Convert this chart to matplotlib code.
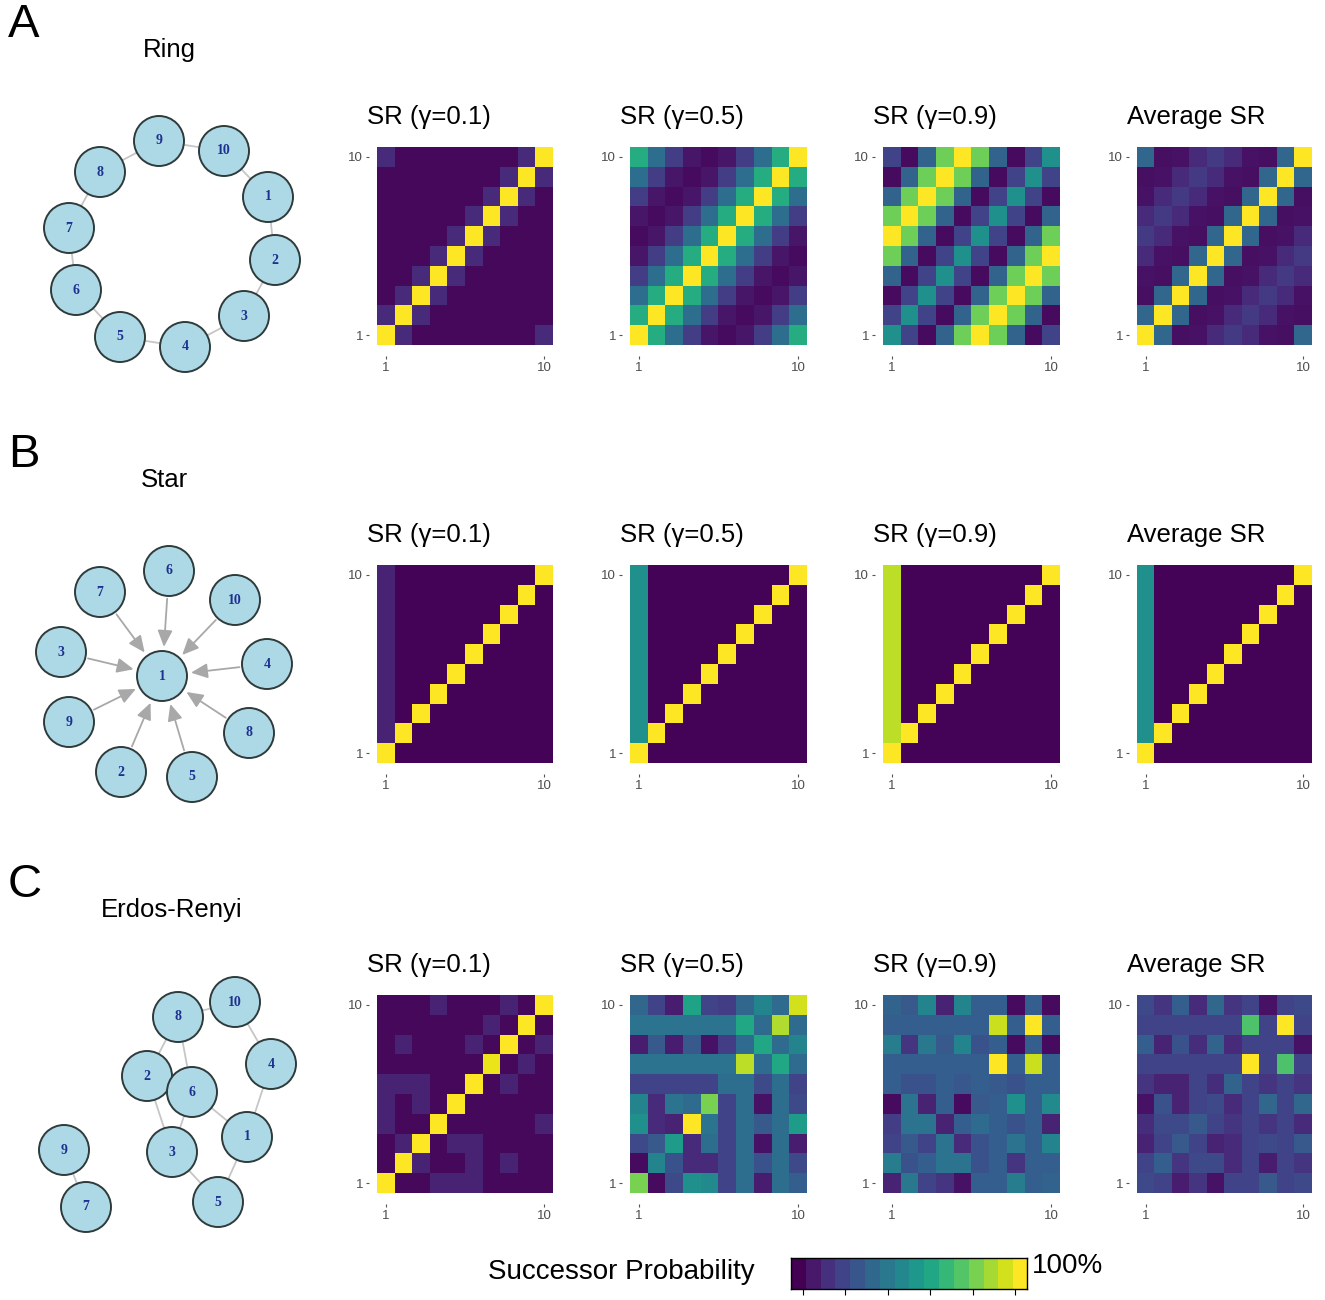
import numpy as np
import matplotlib
matplotlib.use("Agg")
import matplotlib.pyplot as plt
from matplotlib.patches import Circle

plt.rcParams["font.family"] = ["Liberation Sans", "DejaVu Sans"]

W, H = 1325, 1300

# ---- data: successor representations (percent of max), rows from y=10 (top) down to y=1 ----
ring_sr01 = [
    [12, 2, 2, 2, 2, 2, 2, 2, 12, 100],
    [2, 2, 2, 2, 2, 2, 2, 12, 100, 12],
    [2, 2, 2, 2, 2, 2, 12, 100, 12, 2],
    [2, 2, 2, 2, 2, 12, 100, 12, 2, 2],
    [2, 2, 2, 2, 12, 100, 12, 2, 2, 2],
    [2, 2, 2, 12, 100, 12, 2, 2, 2, 2],
    [2, 2, 12, 100, 12, 2, 2, 2, 2, 2],
    [2, 12, 100, 12, 2, 2, 2, 2, 2, 2],
    [12, 100, 12, 2, 2, 2, 2, 2, 2, 2],
    [100, 12, 2, 2, 2, 2, 2, 2, 2, 12],
]
ring_sr05 = [
    [62, 36, 18, 6, 3, 6, 18, 36, 62, 100],
    [36, 18, 6, 3, 6, 18, 36, 62, 100, 62],
    [18, 6, 3, 6, 18, 36, 62, 100, 62, 36],
    [6, 3, 6, 18, 36, 62, 100, 62, 36, 18],
    [3, 6, 18, 36, 62, 100, 62, 36, 18, 6],
    [6, 18, 36, 62, 100, 62, 36, 18, 6, 3],
    [18, 36, 62, 100, 62, 36, 18, 6, 3, 6],
    [36, 62, 100, 62, 36, 18, 6, 3, 6, 18],
    [62, 100, 62, 36, 18, 6, 3, 6, 18, 36],
    [100, 62, 36, 18, 6, 3, 6, 18, 36, 62],
]
ring_sr09 = [
    [20, 3, 32, 78, 100, 78, 32, 3, 20, 50],
    [3, 32, 78, 100, 78, 32, 3, 20, 50, 20],
    [32, 78, 100, 78, 32, 3, 20, 50, 20, 3],
    [78, 100, 78, 32, 3, 20, 50, 20, 3, 32],
    [100, 78, 32, 3, 20, 50, 20, 3, 32, 78],
    [78, 32, 3, 20, 50, 20, 3, 32, 78, 100],
    [32, 3, 20, 50, 20, 3, 32, 78, 100, 78],
    [3, 20, 50, 20, 3, 32, 78, 100, 78, 32],
    [20, 50, 20, 3, 32, 78, 100, 78, 32, 3],
    [50, 20, 3, 32, 78, 100, 78, 32, 3, 20],
]
ring_avg = [
    [33, 4, 5, 12, 17, 12, 5, 4, 33, 100],
    [4, 5, 12, 17, 12, 5, 4, 33, 100, 33],
    [5, 12, 17, 12, 5, 4, 33, 100, 33, 4],
    [12, 17, 12, 5, 4, 33, 100, 33, 4, 5],
    [17, 12, 5, 4, 33, 100, 33, 4, 5, 12],
    [12, 5, 4, 33, 100, 33, 4, 5, 12, 17],
    [5, 4, 33, 100, 33, 4, 5, 12, 17, 12],
    [4, 33, 100, 33, 4, 5, 12, 17, 12, 5],
    [33, 100, 33, 4, 5, 12, 17, 12, 5, 4],
    [100, 33, 4, 5, 12, 17, 12, 5, 4, 33],
]

star_sr01 = [
    [10, 1, 1, 1, 1, 1, 1, 1, 1, 100],
    [10, 1, 1, 1, 1, 1, 1, 1, 100, 1],
    [10, 1, 1, 1, 1, 1, 1, 100, 1, 1],
    [10, 1, 1, 1, 1, 1, 100, 1, 1, 1],
    [10, 1, 1, 1, 1, 100, 1, 1, 1, 1],
    [10, 1, 1, 1, 100, 1, 1, 1, 1, 1],
    [10, 1, 1, 100, 1, 1, 1, 1, 1, 1],
    [10, 1, 100, 1, 1, 1, 1, 1, 1, 1],
    [10, 100, 1, 1, 1, 1, 1, 1, 1, 1],
    [100, 1, 1, 1, 1, 1, 1, 1, 1, 1],
]
star_sr05 = [
    [50, 1, 1, 1, 1, 1, 1, 1, 1, 100],
    [50, 1, 1, 1, 1, 1, 1, 1, 100, 1],
    [50, 1, 1, 1, 1, 1, 1, 100, 1, 1],
    [50, 1, 1, 1, 1, 1, 100, 1, 1, 1],
    [50, 1, 1, 1, 1, 100, 1, 1, 1, 1],
    [50, 1, 1, 1, 100, 1, 1, 1, 1, 1],
    [50, 1, 1, 100, 1, 1, 1, 1, 1, 1],
    [50, 1, 100, 1, 1, 1, 1, 1, 1, 1],
    [50, 100, 1, 1, 1, 1, 1, 1, 1, 1],
    [100, 1, 1, 1, 1, 1, 1, 1, 1, 1],
]
star_sr09 = [
    [90, 1, 1, 1, 1, 1, 1, 1, 1, 100],
    [90, 1, 1, 1, 1, 1, 1, 1, 100, 1],
    [90, 1, 1, 1, 1, 1, 1, 100, 1, 1],
    [90, 1, 1, 1, 1, 1, 100, 1, 1, 1],
    [90, 1, 1, 1, 1, 100, 1, 1, 1, 1],
    [90, 1, 1, 1, 100, 1, 1, 1, 1, 1],
    [90, 1, 1, 100, 1, 1, 1, 1, 1, 1],
    [90, 1, 100, 1, 1, 1, 1, 1, 1, 1],
    [90, 100, 1, 1, 1, 1, 1, 1, 1, 1],
    [100, 1, 1, 1, 1, 1, 1, 1, 1, 1],
]
star_avg = [
    [50, 1, 1, 1, 1, 1, 1, 1, 1, 100],
    [50, 1, 1, 1, 1, 1, 1, 1, 100, 1],
    [50, 1, 1, 1, 1, 1, 1, 100, 1, 1],
    [50, 1, 1, 1, 1, 1, 100, 1, 1, 1],
    [50, 1, 1, 1, 1, 100, 1, 1, 1, 1],
    [50, 1, 1, 1, 100, 1, 1, 1, 1, 1],
    [50, 1, 1, 100, 1, 1, 1, 1, 1, 1],
    [50, 1, 100, 1, 1, 1, 1, 1, 1, 1],
    [50, 100, 1, 1, 1, 1, 1, 1, 1, 1],
    [100, 1, 1, 1, 1, 1, 1, 1, 1, 1],
]

er_sr01 = [
    [2, 2, 2, 10, 2, 2, 2, 10, 2, 100],
    [2, 2, 2, 2, 2, 2, 10, 2, 100, 2],
    [2, 10, 2, 2, 2, 10, 2, 100, 2, 10],
    [2, 2, 2, 2, 2, 2, 97, 2, 10, 2],
    [10, 10, 10, 2, 2, 100, 2, 10, 2, 2],
    [10, 2, 10, 2, 100, 2, 2, 2, 2, 2],
    [10, 2, 2, 100, 2, 2, 2, 2, 2, 10],
    [2, 10, 100, 2, 10, 10, 2, 2, 2, 2],
    [2, 100, 10, 2, 2, 10, 2, 10, 2, 2],
    [100, 2, 2, 10, 10, 10, 2, 2, 2, 2],
]
er_sr05 = [
    [33, 20, 8, 58, 20, 18, 33, 45, 35, 93],
    [38, 38, 38, 38, 38, 38, 60, 35, 88, 35],
    [8, 28, 8, 28, 5, 18, 35, 60, 35, 45],
    [38, 38, 38, 38, 38, 38, 90, 35, 60, 35],
    [20, 20, 20, 20, 20, 36, 36, 22, 36, 20],
    [45, 12, 38, 35, 80, 20, 36, 5, 36, 22],
    [50, 12, 10, 100, 38, 20, 36, 28, 36, 55],
    [22, 28, 55, 12, 36, 20, 36, 5, 36, 8],
    [3, 45, 25, 12, 12, 20, 36, 25, 36, 22],
    [80, 3, 22, 50, 48, 20, 36, 8, 36, 30],
]
er_sr09 = [
    [32, 28, 45, 10, 45, 30, 30, 3, 30, 3],
    [30, 30, 30, 30, 30, 30, 92, 30, 100, 30],
    [42, 15, 40, 28, 45, 25, 30, 3, 30, 3],
    [30, 30, 30, 30, 30, 30, 100, 30, 92, 30],
    [30, 25, 25, 30, 27, 30, 28, 25, 30, 30],
    [3, 38, 10, 30, 3, 28, 30, 50, 30, 48],
    [18, 38, 38, 10, 30, 35, 30, 25, 30, 10],
    [20, 28, 20, 38, 12, 25, 30, 38, 30, 45],
    [42, 25, 30, 38, 38, 25, 30, 15, 30, 30],
    [10, 40, 20, 15, 5, 30, 30, 42, 30, 32],
]
er_avg = [
    [22, 15, 30, 12, 33, 15, 20, 5, 20, 22],
    [20, 20, 20, 20, 20, 20, 72, 20, 100, 20],
    [30, 10, 25, 13, 32, 12, 20, 20, 20, 5],
    [20, 20, 20, 20, 20, 20, 100, 20, 72, 20],
    [15, 10, 10, 20, 13, 32, 20, 15, 20, 15],
    [5, 25, 10, 20, 22, 12, 20, 33, 20, 33],
    [13, 22, 22, 28, 20, 15, 20, 15, 20, 12],
    [10, 20, 28, 20, 10, 12, 20, 22, 20, 28],
    [20, 30, 15, 22, 22, 12, 20, 8, 20, 15],
    [22, 20, 8, 15, 5, 20, 20, 28, 20, 22],
]

sr_titles = ["SR (γ=0.1)", "SR (γ=0.5)", "SR (γ=0.9)", "Average SR"]
row_letters = ["A", "B", "C"]
graph_names = ["Ring", "Star", "Erdos-Renyi"]
row_mats = [
    [ring_sr01, ring_sr05, ring_sr09, ring_avg],
    [star_sr01, star_sr05, star_sr09, star_avg],
    [er_sr01, er_sr05, er_sr09, er_avg],
]

# network layouts (pixel positions)
ring_nodes = {9: (159, 141), 10: (224, 151), 1: (268, 197), 2: (275, 260), 3: (244, 316),
              4: (185, 347), 5: (120, 337), 6: (76, 290), 7: (69, 228), 8: (100, 172)}
ring_edges = [(1, 2), (2, 3), (3, 4), (4, 5), (5, 6), (6, 7), (7, 8), (8, 9), (9, 10), (10, 1)]

star_nodes = {1: (162, 676), 6: (169, 571), 7: (100, 592), 10: (235, 600), 3: (61, 652),
              4: (267, 664), 9: (69, 722), 8: (249, 733), 2: (121, 772), 5: (192, 777)}
star_edges = [(k, 1) for k in [2, 3, 4, 5, 6, 7, 8, 9, 10]]

er_nodes = {10: (235, 1002), 8: (178, 1017), 4: (271, 1064), 2: (147, 1076), 6: (192, 1092),
            1: (247, 1137), 9: (64, 1150), 3: (172, 1152), 5: (218, 1202), 7: (86, 1207)}
er_edges = [(1, 4), (1, 5), (1, 6), (2, 3), (2, 6), (2, 8), (3, 5), (3, 6), (4, 10), (6, 8),
            (7, 9), (8, 10)]

# ---- layout in pixels ----
col_x = [(377, 553), (630, 807), (883, 1060), (1137, 1312)]
row_y = [(147, 345), (565, 763), (995, 1193)]
title_y = [117, 535, 965]
letter_y = [25, 455, 885]
name_pos = [(169, 50), (164, 480), (172, 910)]


def rect(x0, y0, x1, y1):
    return [x0 / W, 1 - y1 / H, (x1 - x0) / W, (y1 - y0) / H]


fig = plt.figure(figsize=(W / 100, H / 100), dpi=100)
bg = fig.add_axes([0, 0, 1, 1])
bg.set_xlim(0, W)
bg.set_ylim(H, 0)
bg.axis("off")


def draw_graph(nodes, edges, arrows=False):
    for a, b in edges:
        (x1, y1), (x2, y2) = nodes[a], nodes[b]
        if arrows:
            bg.annotate("", xy=(x2, y2), xytext=(x1, y1),
                        arrowprops=dict(arrowstyle="-|>,head_length=1.0,head_width=0.45",
                                        color="#a8a8a8", lw=1.3, mutation_scale=10,
                                        shrinkA=20, shrinkB=21), zorder=1)
        else:
            bg.plot([x1, x2], [y1, y2], color="#c6c6c6", lw=1.3, zorder=1)
    for k, (x, y) in nodes.items():
        bg.add_patch(Circle((x, y), 25, fc="#add8e6", ec="#2f3b3b", lw=1.4, zorder=3))
        bg.text(x, y, str(k), ha="center", va="center", fontsize=10, color="#1d3290",
                family="Liberation Serif", weight="bold", zorder=4)


draw_graph(ring_nodes, ring_edges)
draw_graph(star_nodes, star_edges, arrows=True)
draw_graph(er_nodes, er_edges)

for r in range(3):
    bg.text(8, letter_y[r], row_letters[r], fontsize=34, ha="left", va="center")
    bg.text(name_pos[r][0], name_pos[r][1], graph_names[r], fontsize=18.5, ha="center", va="center")
    y0, y1 = row_y[r]
    for c in range(4):
        x0, x1 = col_x[c]
        bg.text(x0 - 10, title_y[r], sr_titles[c], fontsize=18.5, ha="left", va="center")
        ax = fig.add_axes(rect(x0, y0, x1, y1))
        m = np.array(row_mats[r][c]) / 100.0
        ax.imshow(m, cmap="viridis", vmin=0, vmax=1, origin="upper", aspect="auto",
                  extent=(0.5, 10.5, 0.5, 10.5), interpolation="nearest")
        ax.set_xticks([1, 10])
        ax.set_yticks([1, 10])
        for s in ["top", "right"]:
            ax.spines[s].set_visible(False)
        ax.spines["bottom"].set_position(("outward", 8))
        ax.spines["left"].set_position(("outward", 6))
        ax.spines["bottom"].set_visible(False)
        ax.spines["left"].set_visible(False)
        ax.tick_params(length=2.5, width=0.8, color="#555555", labelsize=9.5,
                       labelcolor="#4d4d4d", pad=1.5)

# colorbar legend
bg.text(755, 1272, "Successor Probability", fontsize=20, ha="right", va="center")
bg.text(1032, 1266, "100%", fontsize=20, ha="left", va="center")
cax = fig.add_axes(rect(791, 1258, 1027, 1289))
n_bins = 16
cax.imshow(np.arange(n_bins)[None, :], cmap=plt.get_cmap("viridis", n_bins), aspect="auto",
           extent=(0, 1, 0, 1), interpolation="nearest")
cax.set_xticks([0.05, 0.23, 0.41, 0.59, 0.77, 0.95])
cax.set_xticklabels([])
cax.set_yticks([])
cax.tick_params(length=4, width=0.8, color="black")
for s in cax.spines.values():
    s.set_linewidth(1.0)

fig.savefig("out.png", dpi=100)
